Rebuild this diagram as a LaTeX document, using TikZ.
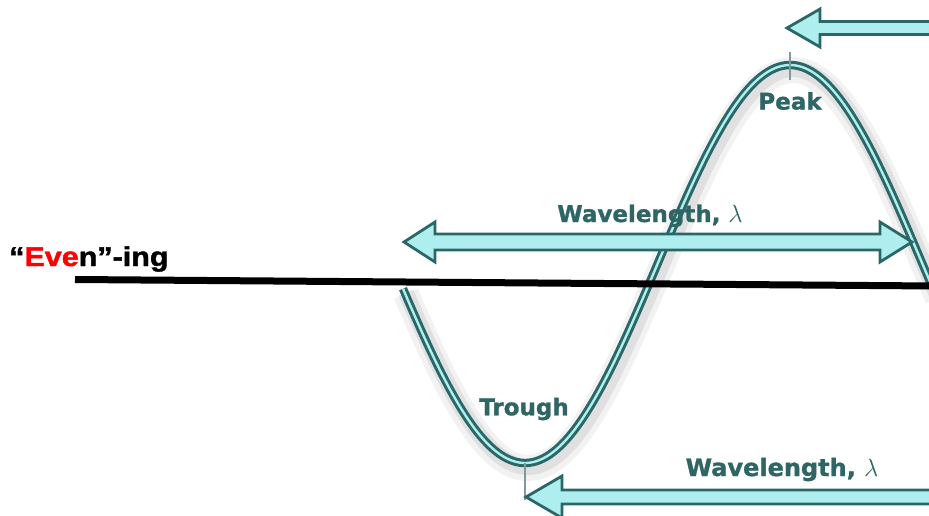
\documentclass[tikz,border=0pt]{standalone}
\usepackage{fontspec}
\setmainfont{Liberation Sans}
\newfontfamily\wavefont[BoldFeatures={FakeBold=1.2}]{DejaVu Sans}
\newfontfamily\titlefont[BoldFeatures={FakeBold=1.5}]{Liberation Sans}
\definecolor{tealdark}{HTML}{2B6767}
\definecolor{tealtext}{HTML}{2F6565}
\definecolor{cyanlight}{HTML}{AEEEEE}
\definecolor{tickgray}{HTML}{7E9A9A}
\begin{document}
\begin{tikzpicture}[x=1pt,y=-1pt,
  bigarrow/.style={draw=tealdark,line width=2.8pt,fill=cyanlight,line join=miter},
  wavestyle/.style={draw=tealdark,line width=3pt,double=cyanlight,double distance=2.4pt},
  wavelabel/.style={text=tealtext,font=\wavefont\bfseries\fontsize{23}{23}\selectfont,inner sep=0pt},
  tickline/.style={draw=tickgray,line width=1.4pt}]
\useasboundingbox (0,0) rectangle (929,516);
% soft shadow of the wave
\draw[gray,opacity=0.16,line width=16pt] plot[domain=403:935,samples=140] (\x+3,{268-199*sin(0.679245*(\x-657.5))});
\draw[gray,opacity=0.10,line width=26pt] plot[domain=403:935,samples=140] (\x+3,{269-199*sin(0.679245*(\x-657.5))});
% the wave
\draw[wavestyle] plot[domain=403:935,samples=160] (\x,{264-199*sin(0.679245*(\x-657.5))});
% peak and trough ticks
\coordinate (pk) at (790,65);
\coordinate (tr) at (525,463);
\draw[tickline] ([yshift=-15pt]pk) -- ([yshift=13pt]pk);
\draw[tickline] (tr) -- ([yshift=-37pt]tr);
% arrows
\draw[bigarrow] (940,21.5) -- (820,21.5) -- (820,9) -- (787,28) -- (820,47) -- (820,34.5) -- (940,34.5) -- cycle;
\draw[bigarrow] (435,234) -- (435,222) -- (404,242) -- (435,262) -- (435,250) -- (880,250) -- (880,262) -- (912,242) -- (880,222) -- (880,234) -- cycle;
\draw[bigarrow] (940,490) -- (562,490) -- (562,476) -- (526,497) -- (562,518) -- (562,504) -- (940,504) -- cycle;
% labels
\node[wavelabel] (peak) at (790,101) {Peak};
\node[wavelabel] (trough) at (524,409) {Trough};
\node[wavelabel,anchor=base] (wl1) at (650,222) {Wavelength, {\fontsize{34}{34}\selectfont$\lambda$}};
\node[wavelabel,anchor=base,font=\wavefont\bfseries\fontsize{24}{24}\selectfont] (wl2) at (782,476) {Wavelength, {\fontsize{35}{35}\selectfont$\lambda$}};
% black line and title
\coordinate (l1) at (75,279.5);
\coordinate (l2) at (935,286);
\draw[black,line width=7pt] (l1) -- (l2);
\node[anchor=base west,inner sep=0pt,font=\titlefont\bfseries\fontsize{27}{27}\selectfont] (even) at (9,266) {\scalebox{1.13}[1]{“\textcolor{red}{Eve}n”-ing}};
\end{tikzpicture}
\end{document}
